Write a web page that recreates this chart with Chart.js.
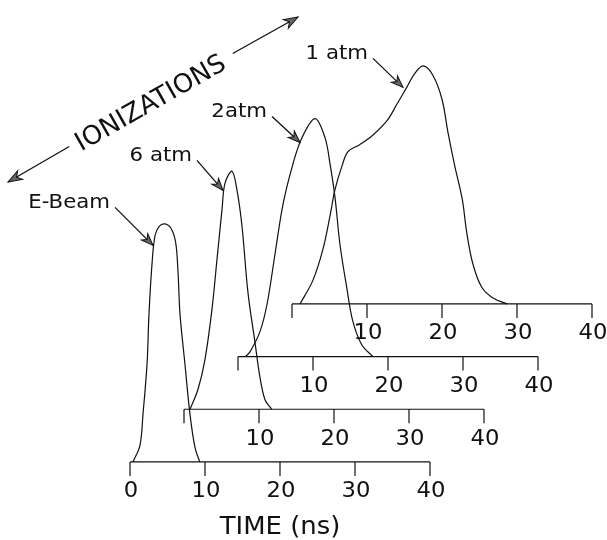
<!DOCTYPE html>
<html>
<head>
<meta charset="utf-8">
<script src="https://cdn.jsdelivr.net/npm/chart.js@4/dist/chart.umd.min.js"></script>
<style>
  html, body { margin: 0; padding: 0; background: #fff; }
</style>
</head>
<body>
<canvas id="chart" width="607" height="540"></canvas>
<script>
// each trace: time (ns) on its own axis, height normalised to its peak
const ebeamTime  = [0.4, 1.33, 1.73, 2.27, 2.53, 2.93, 3.33, 3.9, 4.67, 5.5, 6.1, 6.4, 6.67, 7.33, 8.0, 8.67, 9.3];
const ebeamValue = [0, 0.07, 0.2, 0.41, 0.62, 0.83, 0.95, 0.99, 1.0, 0.98, 0.92, 0.8, 0.62, 0.41, 0.2, 0.06, 0];

const atm6Time  = [0.8, 1.87, 2.8, 3.73, 4.4, 5.07, 5.47, 6.4, 7.07, 7.73, 8.53, 9.47, 10.1, 10.8, 11.7];
const atm6Value = [0, 0.084, 0.21, 0.42, 0.63, 0.84, 0.95, 1.0, 0.92, 0.77, 0.49, 0.28, 0.14, 0.04, 0];

const atm2Time  = [1.0, 1.6, 2.93, 3.87, 4.93, 6.0, 7.33, 8.53, 10.27, 11.6, 12.27, 12.93, 13.6, 14.5, 15.3, 16.5, 18.0];
const atm2Value = [0, 0.02, 0.105, 0.22, 0.43, 0.64, 0.81, 0.92, 1.0, 0.92, 0.81, 0.67, 0.47, 0.29, 0.15, 0.05, 0];

const atm1Time  = [1.07, 2.8, 4.13, 5.07, 5.73, 6.67, 7.47, 9.07, 10.8, 12.67, 14.0, 15.3, 16.4, 17.5, 18.8, 20.0, 20.8, 21.7, 22.7, 23.3, 24.1, 25.3, 26.8, 28.7];
const atm1Value = [0, 0.1, 0.23, 0.37, 0.48, 0.58, 0.64, 0.67, 0.71, 0.77, 0.84, 0.91, 0.97, 1.0, 0.96, 0.86, 0.72, 0.58, 0.44, 0.3, 0.17, 0.07, 0.025, 0];

const traceNames = ['E-Beam', '6 atm', '2atm', '1 atm'];
const axisTicks = [0, 10, 20, 30, 40];
// the first axis labels 0, the stacked ones start at 10
const axisTickLabels = [
    ['0', '10', '20', '30', '40'],
    ['', '10', '20', '30', '40'],
    ['', '10', '20', '30', '40'],
    ['', '10', '20', '30', '40']
];
// where each label's arrow touches its curve (time, height)
const arrowTime  = [3.07, 5.2, 8.27, 14.8];
const arrowValue = [0.91, 0.92, 0.9, 0.91];

// each trace is drawn one step back and up
const SHIFT_NS = 7.2;
const SHIFT_Y = 0.2213;

const traces = [
    [ebeamTime, ebeamValue],
    [atm6Time, atm6Value],
    [atm2Time, atm2Value],
    [atm1Time, atm1Value]
];

const datasets = traces.map(([ts, vs], i) => ({
    label: traceNames[i],
    data: ts.map((t, k) => ({ x: t + i * SHIFT_NS, y: vs[k] + i * SHIFT_Y })),
    borderColor: '#111',
    borderWidth: 1.2,
    pointRadius: 0,
    fill: false,
    tension: 0.35
}));

const FONT = '"DejaVu Sans", "Liberation Sans", sans-serif';

function arrowHead(ctx, tx, ty, ang, len, wid) {
    ctx.save();
    ctx.translate(tx, ty);
    ctx.rotate(ang);
    ctx.beginPath();
    ctx.moveTo(0, 0);
    ctx.lineTo(-len, -wid / 2);
    ctx.lineTo(-len * 0.7, 0);
    ctx.lineTo(-len, wid / 2);
    ctx.closePath();
    ctx.fillStyle = '#666';
    ctx.fill();
    ctx.lineWidth = 1;
    ctx.strokeStyle = '#111';
    ctx.stroke();
    ctx.restore();
}

// wide, thin lettering like the original plotter text
function wideText(ctx, txt, x, y, sx) {
    ctx.save();
    ctx.translate(x, y);
    ctx.scale(sx, 1);
    ctx.fillText(txt, 0, 0);
    ctx.restore();
}

const stackedAxes = {
    id: 'stackedAxes',
    beforeDatasetsDraw(chart) {
        const { ctx, scales: { x, y } } = chart;
        ctx.save();
        ctx.strokeStyle = '#111';
        ctx.fillStyle = '#111';
        ctx.lineWidth = 1.2;
        ctx.font = '21px ' + FONT;
        ctx.textAlign = 'center';
        ctx.textBaseline = 'middle';
        for (let i = 0; i < 4; i++) {
            const by = y.getPixelForValue(i * SHIFT_Y);
            const x0 = x.getPixelForValue(i * SHIFT_NS + axisTicks[0]);
            const x1 = x.getPixelForValue(i * SHIFT_NS + axisTicks[axisTicks.length - 1]);
            ctx.beginPath();
            ctx.moveTo(x0, by);
            ctx.lineTo(x1, by);
            axisTicks.forEach(t => {
                const px = x.getPixelForValue(i * SHIFT_NS + t);
                ctx.moveTo(px, by);
                ctx.lineTo(px, by + 14);
            });
            ctx.stroke();
            axisTicks.forEach((t, k) => {
                const txt = axisTickLabels[i][k];
                if (!txt) return;
                const px = x.getPixelForValue(i * SHIFT_NS + t);
                wideText(ctx, txt, px + 1, by + 30, 1.08);
            });
        }
        ctx.font = '24px ' + FONT;
        wideText(ctx, 'TIME (ns)', x.getPixelForValue(20), y.getPixelForValue(0) + 66, 1.08);
        ctx.restore();
    },
    afterDatasetsDraw(chart) {
        const { ctx, scales: { x, y } } = chart;
        ctx.save();
        ctx.strokeStyle = '#111';
        ctx.fillStyle = '#111';
        ctx.lineWidth = 1.3;
        const tails = [[-38, -38], [-26, -30], [-28, -26], [-30, -29]];
        ctx.font = '19px ' + FONT;
        ctx.textAlign = 'right';
        ctx.textBaseline = 'middle';
        for (let i = 0; i < 4; i++) {
            const tx = x.getPixelForValue(arrowTime[i] + i * SHIFT_NS);
            const ty = y.getPixelForValue(arrowValue[i] + i * SHIFT_Y);
            const sx = tx + tails[i][0];
            const sy = ty + tails[i][1];
            ctx.beginPath();
            ctx.moveTo(sx, sy);
            ctx.lineTo(tx, ty);
            ctx.stroke();
            arrowHead(ctx, tx, ty, Math.atan2(ty - sy, tx - sx), 12, 9);
            wideText(ctx, traceNames[i], sx - 5, sy - 4, 1.12);
        }

        // IONIZATIONS double arrow
        const L = [8, 182], R = [298, 17];
        const ang = Math.atan2(R[1] - L[1], R[0] - L[0]);
        const cx = 151, cy = 104;
        const half = 88;
        const ux = Math.cos(ang), uy = Math.sin(ang);
        ctx.beginPath();
        ctx.moveTo(L[0], L[1]);
        ctx.lineTo(cx - ux * (half + 6), cy - uy * (half + 6) - 4);
        ctx.moveTo(cx + ux * (half + 6), cy + uy * (half + 6) - 4);
        ctx.lineTo(R[0], R[1]);
        ctx.stroke();
        arrowHead(ctx, L[0], L[1], ang + Math.PI, 14, 10);
        arrowHead(ctx, R[0], R[1], ang, 14, 10);
        ctx.translate(cx, cy);
        ctx.rotate(ang);
        ctx.textAlign = 'center';
        ctx.font = '26px ' + FONT;
        ctx.fillText('IONIZATIONS', 0, 0);
        ctx.restore();
    }
};

new Chart(document.getElementById('chart'), {
    type: 'line',
    data: { datasets },
    options: {
        responsive: false,
        animation: false,
        layout: { padding: 0 },
        scales: {
            x: { type: 'linear', display: false, min: -17.333, max: 63.6 },
            y: { type: 'linear', display: false, min: -0.328, max: 1.941 }
        },
        plugins: { legend: { display: false }, tooltip: { enabled: false } }
    },
    plugins: [stackedAxes]
});
</script>
</body>
</html>
